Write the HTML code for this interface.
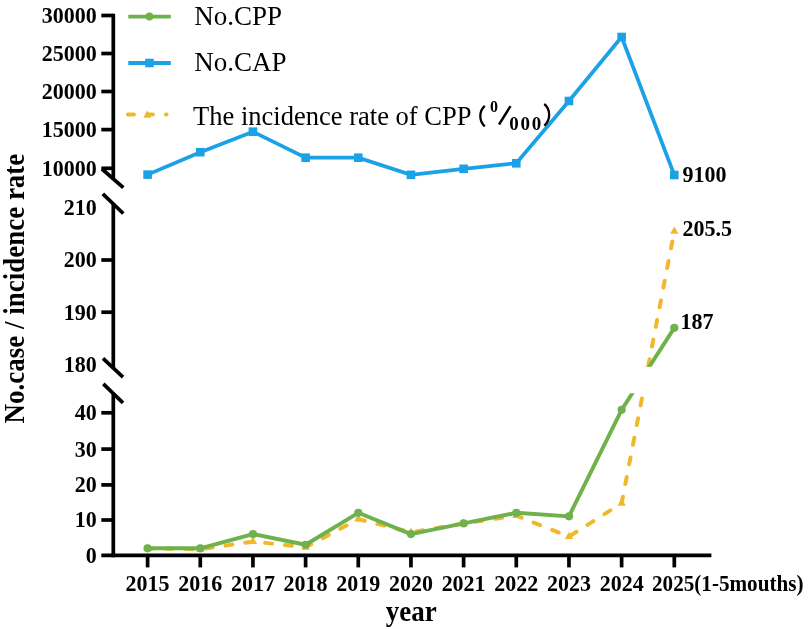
<!DOCTYPE html>
<html><head><meta charset="utf-8"><style>
html,body{margin:0;padding:0;background:#fff;}
body{width:809px;height:629px;overflow:hidden;font-family:"Liberation Serif",serif;}
svg{display:block;will-change:transform;}
</style></head><body>
<svg width="809" height="629" viewBox="0 0 809 629">
<defs>
<clipPath id="cm"><rect x="0" y="204" width="809" height="162.7"/></clipPath>
<clipPath id="cb"><rect x="0" y="393.2" width="809" height="240"/></clipPath>
</defs>
<g stroke="#000" stroke-width="3.7" fill="none">
<line x1="113.3" y1="13.7" x2="113.3" y2="179"/>
<line x1="113.3" y1="204" x2="113.3" y2="368"/>
<line x1="113.3" y1="393.6" x2="113.3" y2="557.2"/>
<line x1="101.3" y1="15.5" x2="113.3" y2="15.5"/>
<line x1="101.3" y1="53.5" x2="113.3" y2="53.5"/>
<line x1="101.3" y1="91.5" x2="113.3" y2="91.5"/>
<line x1="101.3" y1="129.6" x2="113.3" y2="129.6"/>
<line x1="101.3" y1="168.3" x2="113.3" y2="168.3"/>
<line x1="101.3" y1="260.0" x2="113.3" y2="260.0"/>
<line x1="101.3" y1="312.2" x2="113.3" y2="312.2"/>
<line x1="101.3" y1="412.8" x2="113.3" y2="412.8"/>
<line x1="101.3" y1="449.1" x2="113.3" y2="449.1"/>
<line x1="101.3" y1="484.9" x2="113.3" y2="484.9"/>
<line x1="101.3" y1="520.0" x2="113.3" y2="520.0"/>
<line x1="101.3" y1="555.4" x2="711.4" y2="555.4"/>
<line x1="147.60" y1="555.4" x2="147.60" y2="567.4"/>
<line x1="200.27" y1="555.4" x2="200.27" y2="567.4"/>
<line x1="252.94" y1="555.4" x2="252.94" y2="567.4"/>
<line x1="305.61" y1="555.4" x2="305.61" y2="567.4"/>
<line x1="358.28" y1="555.4" x2="358.28" y2="567.4"/>
<line x1="410.95" y1="555.4" x2="410.95" y2="567.4"/>
<line x1="463.62" y1="555.4" x2="463.62" y2="567.4"/>
<line x1="516.29" y1="555.4" x2="516.29" y2="567.4"/>
<line x1="568.96" y1="555.4" x2="568.96" y2="567.4"/>
<line x1="621.63" y1="555.4" x2="621.63" y2="567.4"/>
<line x1="674.30" y1="555.4" x2="674.30" y2="567.4"/>
<line x1="102" y1="169" x2="123.3" y2="187.7"/>
<line x1="102.8" y1="193.9" x2="123.3" y2="213.5"/>
<line x1="103" y1="358.3" x2="123" y2="377.2"/>
<line x1="103.3" y1="383.9" x2="123" y2="402.8"/>
</g>
<polyline points="147.60,174.60 200.27,152.20 252.94,131.70 305.61,157.70 358.28,157.70 410.95,174.80 463.62,168.80 516.29,163.30 568.96,101.00 621.63,37.00 674.30,175.00" fill="none" stroke="#1ba1e5" stroke-width="3.7" stroke-linejoin="miter"/>
<rect x="143.30" y="170.30" width="8.6" height="8.6" fill="#1ba1e5"/>
<rect x="195.97" y="147.90" width="8.6" height="8.6" fill="#1ba1e5"/>
<rect x="248.64" y="127.40" width="8.6" height="8.6" fill="#1ba1e5"/>
<rect x="301.31" y="153.40" width="8.6" height="8.6" fill="#1ba1e5"/>
<rect x="353.98" y="153.40" width="8.6" height="8.6" fill="#1ba1e5"/>
<rect x="406.65" y="170.50" width="8.6" height="8.6" fill="#1ba1e5"/>
<rect x="459.32" y="164.50" width="8.6" height="8.6" fill="#1ba1e5"/>
<rect x="511.99" y="159.00" width="8.6" height="8.6" fill="#1ba1e5"/>
<rect x="564.66" y="96.70" width="8.6" height="8.6" fill="#1ba1e5"/>
<rect x="617.33" y="32.70" width="8.6" height="8.6" fill="#1ba1e5"/>
<rect x="670.00" y="170.70" width="8.6" height="8.6" fill="#1ba1e5"/>
<g clip-path="url(#cm)">
<polyline points="147.60,548.30 200.27,549.37 252.94,541.55 305.61,547.24 358.28,519.19 410.95,532.32 463.62,523.45 516.29,515.64 568.96,536.59 621.63,503.21 674.30,231.29" fill="none" stroke="#f0b92c" stroke-width="4" stroke-dasharray="7 13" stroke-dashoffset="1.82" stroke-linecap="round" stroke-linejoin="round"/>
<polygon points="147.60,543.43 151.80,550.73 143.40,550.73" fill="#f0b92c"/>
<polygon points="200.27,544.50 204.47,551.79 196.07,551.79" fill="#f0b92c"/>
<polygon points="252.94,536.68 257.14,543.98 248.74,543.98" fill="#f0b92c"/>
<polygon points="305.61,542.37 309.81,549.66 301.41,549.66" fill="#f0b92c"/>
<polygon points="358.28,514.32 362.48,521.62 354.08,521.62" fill="#f0b92c"/>
<polygon points="410.95,527.45 415.15,534.75 406.75,534.75" fill="#f0b92c"/>
<polygon points="463.62,518.58 467.82,525.88 459.42,525.88" fill="#f0b92c"/>
<polygon points="516.29,510.77 520.49,518.07 512.09,518.07" fill="#f0b92c"/>
<polygon points="568.96,531.72 573.16,539.01 564.76,539.01" fill="#f0b92c"/>
<polygon points="621.63,498.34 625.83,505.64 617.43,505.64" fill="#f0b92c"/>
<polygon points="674.30,226.42 678.50,233.72 670.10,233.72" fill="#f0b92c"/>
<polyline points="147.60,548.30 200.27,548.30 252.94,534.10 305.61,544.75 358.28,512.80 410.95,534.10 463.62,523.45 516.29,512.80 568.96,516.35 621.63,409.85 674.30,327.86" fill="none" stroke="#6fb14a" stroke-width="3.9" stroke-linejoin="round"/>
<circle cx="147.60" cy="548.30" r="4.1" fill="#6fb14a"/>
<circle cx="200.27" cy="548.30" r="4.1" fill="#6fb14a"/>
<circle cx="252.94" cy="534.10" r="4.1" fill="#6fb14a"/>
<circle cx="305.61" cy="544.75" r="4.1" fill="#6fb14a"/>
<circle cx="358.28" cy="512.80" r="4.1" fill="#6fb14a"/>
<circle cx="410.95" cy="534.10" r="4.1" fill="#6fb14a"/>
<circle cx="463.62" cy="523.45" r="4.1" fill="#6fb14a"/>
<circle cx="516.29" cy="512.80" r="4.1" fill="#6fb14a"/>
<circle cx="568.96" cy="516.35" r="4.1" fill="#6fb14a"/>
<circle cx="621.63" cy="409.85" r="4.1" fill="#6fb14a"/>
<circle cx="674.30" cy="327.86" r="4.1" fill="#6fb14a"/>
</g>
<g clip-path="url(#cb)">
<polyline points="147.60,548.30 200.27,549.37 252.94,541.55 305.61,547.24 358.28,519.19 410.95,532.32 463.62,523.45 516.29,515.64 568.96,536.59 621.63,503.21 674.30,231.29" fill="none" stroke="#f0b92c" stroke-width="4" stroke-dasharray="7 13" stroke-dashoffset="1.82" stroke-linecap="round" stroke-linejoin="round"/>
<polygon points="147.60,543.43 151.80,550.73 143.40,550.73" fill="#f0b92c"/>
<polygon points="200.27,544.50 204.47,551.79 196.07,551.79" fill="#f0b92c"/>
<polygon points="252.94,536.68 257.14,543.98 248.74,543.98" fill="#f0b92c"/>
<polygon points="305.61,542.37 309.81,549.66 301.41,549.66" fill="#f0b92c"/>
<polygon points="358.28,514.32 362.48,521.62 354.08,521.62" fill="#f0b92c"/>
<polygon points="410.95,527.45 415.15,534.75 406.75,534.75" fill="#f0b92c"/>
<polygon points="463.62,518.58 467.82,525.88 459.42,525.88" fill="#f0b92c"/>
<polygon points="516.29,510.77 520.49,518.07 512.09,518.07" fill="#f0b92c"/>
<polygon points="568.96,531.72 573.16,539.01 564.76,539.01" fill="#f0b92c"/>
<polygon points="621.63,498.34 625.83,505.64 617.43,505.64" fill="#f0b92c"/>
<polygon points="674.30,226.42 678.50,233.72 670.10,233.72" fill="#f0b92c"/>
<polyline points="147.60,548.30 200.27,548.30 252.94,534.10 305.61,544.75 358.28,512.80 410.95,534.10 463.62,523.45 516.29,512.80 568.96,516.35 621.63,409.85 674.30,327.86" fill="none" stroke="#6fb14a" stroke-width="3.9" stroke-linejoin="round"/>
<circle cx="147.60" cy="548.30" r="4.1" fill="#6fb14a"/>
<circle cx="200.27" cy="548.30" r="4.1" fill="#6fb14a"/>
<circle cx="252.94" cy="534.10" r="4.1" fill="#6fb14a"/>
<circle cx="305.61" cy="544.75" r="4.1" fill="#6fb14a"/>
<circle cx="358.28" cy="512.80" r="4.1" fill="#6fb14a"/>
<circle cx="410.95" cy="534.10" r="4.1" fill="#6fb14a"/>
<circle cx="463.62" cy="523.45" r="4.1" fill="#6fb14a"/>
<circle cx="516.29" cy="512.80" r="4.1" fill="#6fb14a"/>
<circle cx="568.96" cy="516.35" r="4.1" fill="#6fb14a"/>
<circle cx="621.63" cy="409.85" r="4.1" fill="#6fb14a"/>
<circle cx="674.30" cy="327.86" r="4.1" fill="#6fb14a"/>
</g>
<line x1="128.3" y1="16.6" x2="170.8" y2="16.6" stroke="#6fb14a" stroke-width="3.6"/>
<circle cx="149.5" cy="16.5" r="3.9" fill="#6fb14a"/>
<line x1="128.3" y1="63" x2="170.8" y2="63" stroke="#1ba1e5" stroke-width="3.8"/>
<rect x="145.2" y="58.7" width="8.6" height="8.6" fill="#1ba1e5"/>
<line x1="127.9" y1="114.5" x2="166.6" y2="114.5" stroke="#f0b92c" stroke-width="4" stroke-dasharray="6 13" stroke-linecap="round"/>
<polygon points="147.3,110.6 151.3,117.8 143.3,117.8" fill="#f0b92c"/>
<g font-family="Liberation Serif" font-weight="bold" font-size="22" fill="#000" text-anchor="end">
<text transform="translate(96.8,22.9) scale(1,1.05)">30000</text>
<text transform="translate(96.8,60.9) scale(1,1.05)">25000</text>
<text transform="translate(96.8,98.9) scale(1,1.05)">20000</text>
<text transform="translate(96.8,137.0) scale(1,1.05)">15000</text>
<text transform="translate(96.8,175.7) scale(1,1.05)">10000</text>
<text transform="translate(96.8,215.2) scale(1,1.05)">210</text>
<text transform="translate(96.8,267.4) scale(1,1.05)">200</text>
<text transform="translate(96.8,319.6) scale(1,1.05)">190</text>
<text transform="translate(96.8,371.8) scale(1,1.05)">180</text>
<text transform="translate(96.8,420.2) scale(1,1.05)">40</text>
<text transform="translate(96.8,456.5) scale(1,1.05)">30</text>
<text transform="translate(96.8,492.3) scale(1,1.05)">20</text>
<text transform="translate(96.8,527.4) scale(1,1.05)">10</text>
<text transform="translate(96.8,562.8) scale(1,1.05)">0</text>
</g>
<g font-family="Liberation Serif" font-weight="bold" font-size="22" fill="#000" text-anchor="middle">
<text transform="translate(147.60,590.9) scale(1,1.05)">2015</text>
<text transform="translate(200.27,590.9) scale(1,1.05)">2016</text>
<text transform="translate(252.94,590.9) scale(1,1.05)">2017</text>
<text transform="translate(305.61,590.9) scale(1,1.05)">2018</text>
<text transform="translate(358.28,590.9) scale(1,1.05)">2019</text>
<text transform="translate(410.95,590.9) scale(1,1.05)">2020</text>
<text transform="translate(463.62,590.9) scale(1,1.05)">2021</text>
<text transform="translate(516.29,590.9) scale(1,1.05)">2022</text>
<text transform="translate(568.96,590.9) scale(1,1.05)">2023</text>
<text transform="translate(621.63,590.9) scale(1,1.05)">2024</text>
</g>
<text font-family="Liberation Serif" font-weight="bold" font-size="22" transform="translate(652,590.9) scale(1,1.05)" textLength="151.5" lengthAdjust="spacingAndGlyphs">2025(1-5mouths)</text>
<text font-family="Liberation Serif" font-weight="bold" font-size="27" transform="translate(411.3,620.8) scale(1,1.07)" text-anchor="middle">year</text>
<text font-family="Liberation Serif" font-weight="bold" font-size="27" transform="translate(23.8,288.6) rotate(-90) scale(1,1.07)" text-anchor="middle">No.case / incidence rate</text>
<g font-family="Liberation Serif" font-weight="bold" font-size="22" fill="#000">
<text transform="translate(682.5,181.7) scale(1,1.05)">9100</text>
<text transform="translate(682.5,235.6) scale(1,1.05)">205.5</text>
<text transform="translate(680.5,329.2) scale(1,1.05)">187</text>
</g>
<g font-family="Liberation Serif" font-size="27" fill="#000">
<text x="194.2" y="24.5">No.CPP</text>
<text x="194.2" y="70.5">No.CAP</text>
<text x="193" y="124.6" textLength="278.5" lengthAdjust="spacingAndGlyphs">The incidence rate of CPP</text>
</g>
<path d="M484.8,105.8 C478.8,111 478.8,121 484.8,126.4" fill="none" stroke="#000" stroke-width="2.3"/>
<text font-family="Liberation Serif" font-weight="bold" font-size="16" x="490" y="111.7">0</text>
<line x1="499" y1="124.5" x2="510.5" y2="106.1" stroke="#000" stroke-width="2.4"/>
<text font-family="Liberation Serif" font-weight="bold" font-size="19" x="509.3" y="129.5" textLength="32" lengthAdjust="spacing">000</text>
<path d="M544.3,104 C550.8,109.5 550.8,120 544.3,125.6" fill="none" stroke="#000" stroke-width="2.3"/>
</svg>
</body></html>
